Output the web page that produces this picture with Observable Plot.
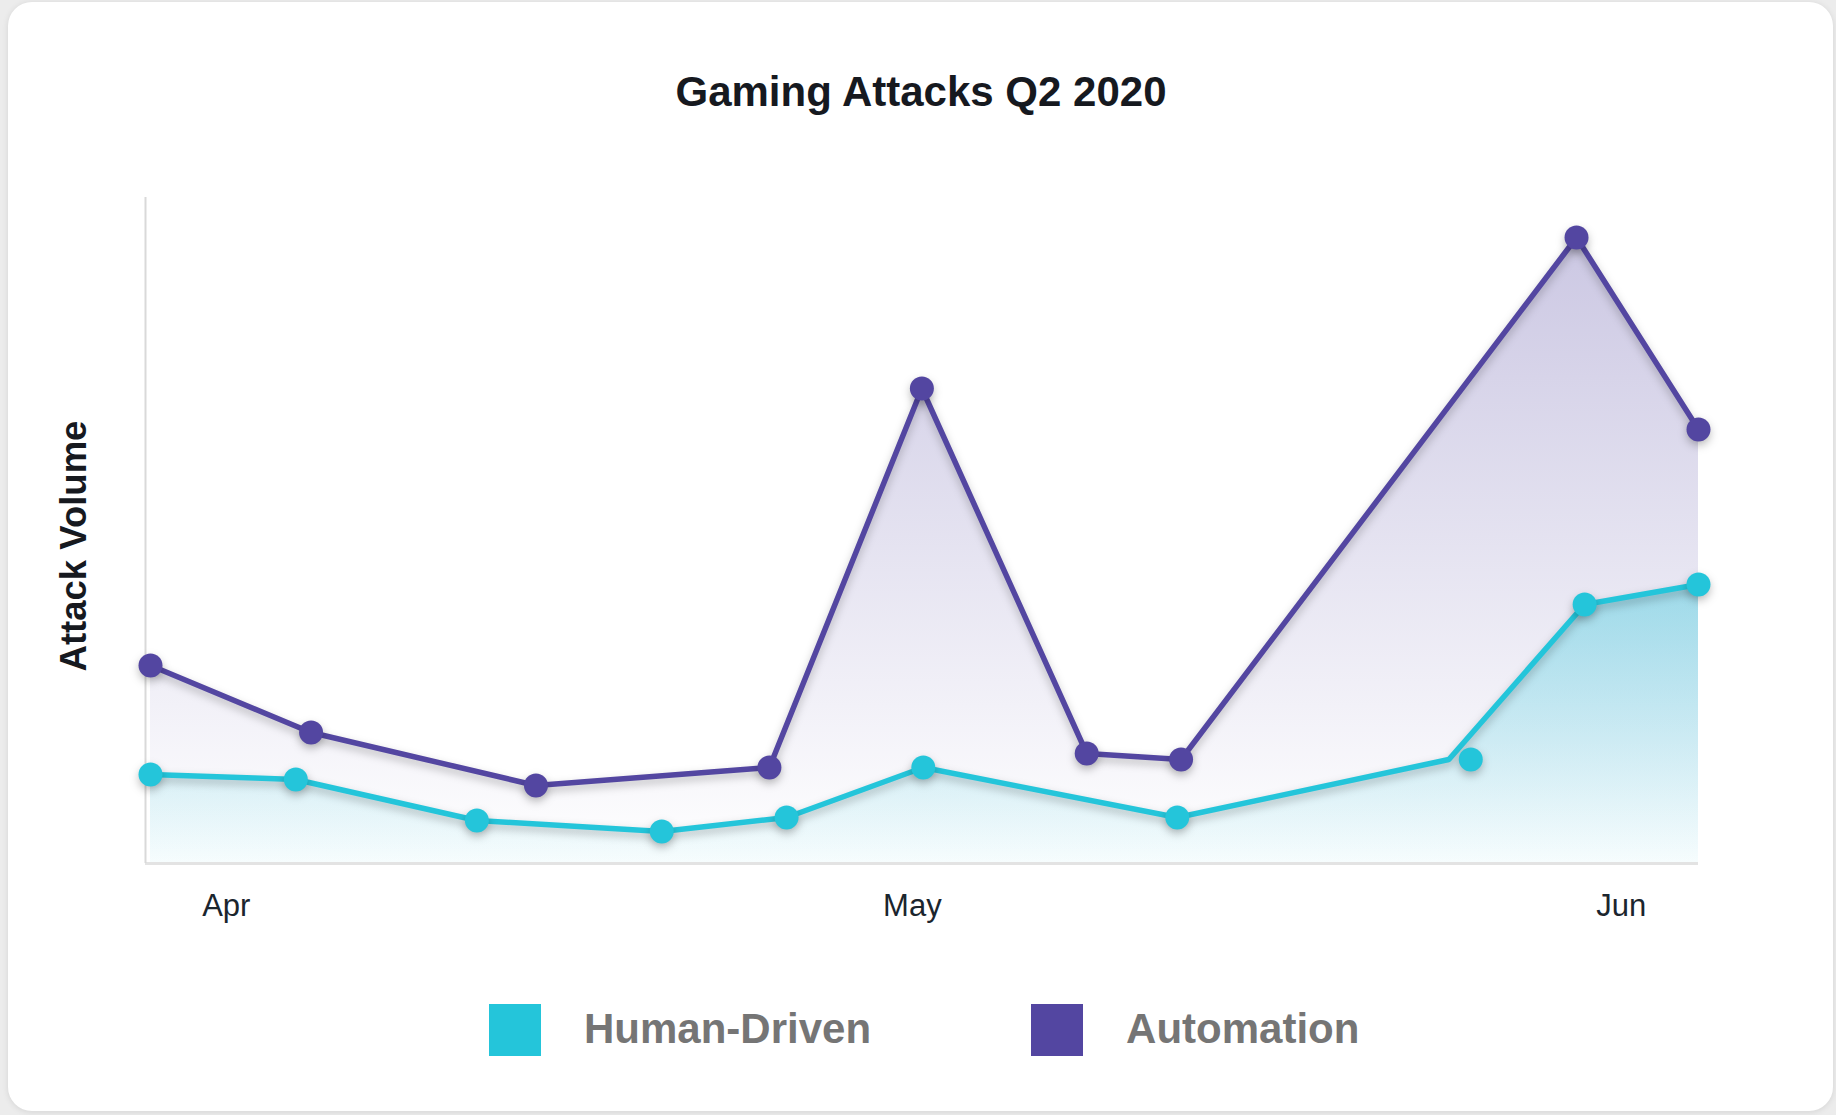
<!DOCTYPE html>
<html>
<head>
<meta charset="utf-8">
<script src="https://cdn.jsdelivr.net/npm/d3@7"></script>
<script src="https://cdn.jsdelivr.net/npm/@observablehq/plot@0.6"></script>
<style>
  html, body {
    margin: 0; padding: 0; width: 1836px; height: 1115px; overflow: hidden;
    background: #ececec; font-family: "Liberation Sans", Arial, sans-serif;
  }
  #card {
    position: absolute; left: 8px; top: 2px; width: 1825px; height: 1109px;
    background: #fff; border-radius: 24px; box-shadow: 0 1px 6px rgba(0,0,0,0.10);
  }
  #title {
    position: absolute; left: 0; top: 71px; width: 1842px; text-align: center;
    font-size: 42px; line-height: 42px; font-weight: bold; color: #16191f;
  }
  #ylabel {
    position: absolute; left: 74px; top: 546px; white-space: nowrap;
    transform: translate(-50%, -50%) rotate(-90deg);
    font-size: 36.5px; line-height: 36.5px; font-weight: bold; color: #16191f;
  }
  #chart { position: absolute; left: 0; top: 150px; }
  #legend {
    position: absolute; left: 489px; top: 1004px; display: flex; align-items: center;
  }
  .item { display: flex; align-items: center; margin-right: 160px; }
  .swatch { width: 52px; height: 52px; margin-right: 43px; }
  .name { font-size: 42px; line-height: 42px; font-weight: bold; color: #757575; margin-top: -3px; }
</style>
</head>
<body>
<div id="card"></div>
<div id="title">Gaming Attacks Q2 2020</div>
<div id="ylabel">Attack Volume</div>
<div id="chart"></div>
<div id="legend"></div>
<script>
// Series
const seriesNames = ["Human-Driven", "Automation"];
const seriesColors = ["#24c5da", "#5346a1"];

// Automation attack volume (relative index)
const automationDates = ["2020-03-28T16:30Z", "2020-04-04T17:00Z", "2020-04-14T13:00Z", "2020-04-24T18:00Z",
  "2020-05-01T10:00Z", "2020-05-08T15:00Z", "2020-05-12T18:00Z", "2020-05-30T01:00Z", "2020-06-04T09:00Z"];
const automationValues = [198, 131, 78, 96, 475, 110, 104, 626, 434];

// Human-driven attack volume (relative index)
const humanDates = ["2020-03-28T16:30Z", "2020-04-04T01:00Z", "2020-04-11T23:00Z", "2020-04-20T01:00Z",
  "2020-04-25T12:00Z", "2020-05-01T11:30Z", "2020-05-12T14:00Z", "2020-05-24T11:00Z", "2020-05-30T09:30Z", "2020-06-04T09:00Z"];
const humanDotDates = ["2020-03-28T16:30Z", "2020-04-04T01:00Z", "2020-04-11T23:00Z", "2020-04-20T01:00Z",
  "2020-04-25T12:00Z", "2020-05-01T11:30Z", "2020-05-12T14:00Z", "2020-05-25T10:00Z", "2020-05-30T09:30Z", "2020-06-04T09:00Z"];
const humanValues = [89, 84, 43, 32, 46, 96, 46, 104, 259, 279];

// Axis
const monthTicks = ["2020-04-01", "2020-05-01", "2020-06-01"];
const xStart = "2020-03-28T11:15Z";
const yMax = 666;

const automation = automationDates.map((d, i) => ({date: new Date(d), value: automationValues[i]}));
const human = humanDates.map((d, i) => ({date: new Date(d), value: humanValues[i]}));
const humanDots = humanDotDates.map((d, i) => ({date: new Date(d), value: humanValues[i]}));
const xEnd = d3.max(automation, d => d.date);

const plot = Plot.plot({
  width: 1836,
  height: 800,
  marginLeft: 145,
  marginRight: 138,
  marginTop: 47,
  marginBottom: 87,
  style: {fontFamily: "Liberation Sans, Arial, sans-serif", fontSize: "31px", color: "#1b252e", background: "transparent", overflow: "visible"},
  x: {type: "utc", domain: [new Date(xStart), xEnd], axis: null},
  y: {domain: [0, yMax], axis: null},
  marks: [
    Plot.areaY(automation, {x: "date", y: "value", fill: "url(#gradAutomation)"}),
    Plot.areaY(human, {x: "date", y: "value", fill: "url(#gradHuman)"}),
    Plot.ruleY([0], {stroke: "#e3e3e3", strokeWidth: 3}),
    Plot.ruleX([new Date(xStart)], {stroke: "#d9d9d9", strokeWidth: 2}),
    Plot.axisX({
      ticks: monthTicks.map(d => new Date(d)),
      tickFormat: d3.utcFormat("%b"),
      tickSize: 0,
      tickPadding: 30,
      fontSize: 31
    }),
    Plot.line(human, {x: "date", y: "value", stroke: seriesColors[0], strokeWidth: 5.5}),
    Plot.line(automation, {x: "date", y: "value", stroke: seriesColors[1], strokeWidth: 5.5}),
    Plot.dot(humanDots, {x: "date", y: "value", r: 12, fill: seriesColors[0]}),
    Plot.dot(automation, {x: "date", y: "value", r: 12, fill: seriesColors[1]})
  ]
});

// Gradient fills for the areas
const svg = d3.select(plot);
const defs = svg.insert("defs", ":first-child");
function gradient(id, color, top, bottom) {
  const g = defs.append("linearGradient").attr("id", id)
    .attr("x1", 0).attr("y1", 0).attr("x2", 0).attr("y2", 1);
  g.append("stop").attr("offset", 0).attr("stop-color", color).attr("stop-opacity", top);
  g.append("stop").attr("offset", 1).attr("stop-color", color).attr("stop-opacity", bottom);
}
gradient("gradAutomation", seriesColors[1], 0.3, 0.0);
gradient("gradHuman", seriesColors[0], 0.38, 0.04);

// Soft drop shadow under lines and dots
svg.selectAll('g[aria-label="line"], g[aria-label="dot"]')
  .style("filter", "drop-shadow(0px 4px 4px rgba(0,0,0,0.25))");

document.getElementById("chart").appendChild(plot);

// Legend
const legend = d3.select("#legend");
seriesNames.forEach((name, i) => {
  const item = legend.append("div").attr("class", "item");
  item.append("div").attr("class", "swatch").style("background", seriesColors[i]);
  item.append("div").attr("class", "name").text(name);
});
</script>
</body>
</html>
